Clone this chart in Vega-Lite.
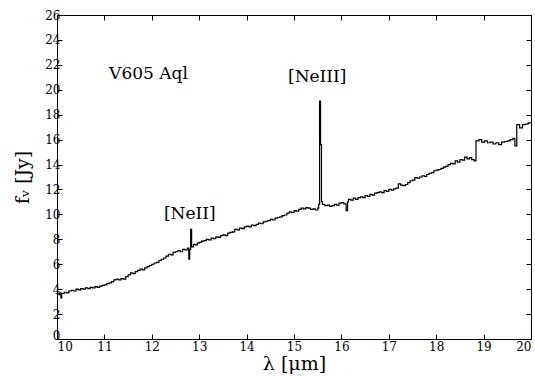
{
  "$schema": "https://vega.github.io/schema/vega-lite/v6.json",
  "width": 474,
  "height": 324,
  "autosize": "none",
  "padding": {"left": 57, "top": 15, "right": 4, "bottom": 38},
  "background": "white",
  "config": {
    "view": {"stroke": "black", "strokeWidth": 1},
    "axis": {"grid": false, "domain": false, "tickColor": "black", "tickSize": -5, "labelFont": "DejaVu Serif", "labelFontSize": 12, "labelColor": "black", "titleFont": "DejaVu Serif", "titleFontWeight": "normal", "titleColor": "black", "titleFontSize": 19}
  },
  "datasets": {
    "spec": [
      {"w": 10.00, "f": 3.55}, {"w": 10.05, "f": 3.7}, {"w": 10.08, "f": 3.3}, {"w": 10.10, "f": 3.65}, {"w": 10.15, "f": 3.75},
      {"w": 10.20, "f": 3.7}, {"w": 10.25, "f": 3.85}, {"w": 10.30, "f": 3.9}, {"w": 10.35, "f": 3.85}, {"w": 10.40, "f": 4.0},
      {"w": 10.45, "f": 3.95}, {"w": 10.50, "f": 4.05}, {"w": 10.55, "f": 4.0}, {"w": 10.60, "f": 4.1}, {"w": 10.65, "f": 4.05},
      {"w": 10.70, "f": 4.15}, {"w": 10.75, "f": 4.1}, {"w": 10.80, "f": 4.2}, {"w": 10.85, "f": 4.15}, {"w": 10.90, "f": 4.25},
      {"w": 10.95, "f": 4.3}, {"w": 11.00, "f": 4.35}, {"w": 11.05, "f": 4.45}, {"w": 11.10, "f": 4.5}, {"w": 11.15, "f": 4.6},
      {"w": 11.20, "f": 4.75}, {"w": 11.25, "f": 4.8}, {"w": 11.30, "f": 4.75}, {"w": 11.35, "f": 4.85}, {"w": 11.40, "f": 4.8},
      {"w": 11.45, "f": 5.0}, {"w": 11.50, "f": 5.15}, {"w": 11.55, "f": 5.3}, {"w": 11.60, "f": 5.25}, {"w": 11.65, "f": 5.4},
      {"w": 11.70, "f": 5.5}, {"w": 11.75, "f": 5.6}, {"w": 11.80, "f": 5.55}, {"w": 11.85, "f": 5.7}, {"w": 11.90, "f": 5.8},
      {"w": 11.95, "f": 5.9}, {"w": 12.00, "f": 6.0}, {"w": 12.05, "f": 6.1}, {"w": 12.10, "f": 6.15}, {"w": 12.15, "f": 6.3},
      {"w": 12.20, "f": 6.4}, {"w": 12.25, "f": 6.5}, {"w": 12.30, "f": 6.65}, {"w": 12.35, "f": 6.8}, {"w": 12.40, "f": 6.75},
      {"w": 12.45, "f": 6.95}, {"w": 12.50, "f": 7.0}, {"w": 12.55, "f": 7.1}, {"w": 12.60, "f": 7.0}, {"w": 12.65, "f": 7.2},
      {"w": 12.70, "f": 7.15}, {"w": 12.75, "f": 7.3}, {"w": 12.78, "f": 6.4}, {"w": 12.80, "f": 7.2}, {"w": 12.82, "f": 8.8},
      {"w": 12.84, "f": 7.4}, {"w": 12.88, "f": 7.6}, {"w": 12.92, "f": 7.55}, {"w": 12.96, "f": 7.7}, {"w": 13.00, "f": 7.75},
      {"w": 13.05, "f": 7.85}, {"w": 13.10, "f": 7.9}, {"w": 13.15, "f": 8.0}, {"w": 13.20, "f": 7.95}, {"w": 13.25, "f": 8.1},
      {"w": 13.30, "f": 8.05}, {"w": 13.35, "f": 8.2}, {"w": 13.40, "f": 8.15}, {"w": 13.45, "f": 8.3}, {"w": 13.50, "f": 8.35},
      {"w": 13.55, "f": 8.3}, {"w": 13.60, "f": 8.5}, {"w": 13.65, "f": 8.55}, {"w": 13.70, "f": 8.6}, {"w": 13.75, "f": 8.8},
      {"w": 13.80, "f": 8.75}, {"w": 13.85, "f": 8.9}, {"w": 13.90, "f": 8.85}, {"w": 13.95, "f": 9.0}, {"w": 14.00, "f": 9.05},
      {"w": 14.05, "f": 9.0}, {"w": 14.10, "f": 9.15}, {"w": 14.15, "f": 9.1}, {"w": 14.20, "f": 9.2}, {"w": 14.25, "f": 9.3},
      {"w": 14.30, "f": 9.25}, {"w": 14.35, "f": 9.4}, {"w": 14.40, "f": 9.45}, {"w": 14.45, "f": 9.5}, {"w": 14.50, "f": 9.6},
      {"w": 14.55, "f": 9.55}, {"w": 14.60, "f": 9.7}, {"w": 14.65, "f": 9.75}, {"w": 14.70, "f": 9.8}, {"w": 14.75, "f": 9.9},
      {"w": 14.80, "f": 9.95}, {"w": 14.85, "f": 10.1}, {"w": 14.90, "f": 10.2}, {"w": 14.95, "f": 10.15}, {"w": 15.00, "f": 10.3},
      {"w": 15.05, "f": 10.25}, {"w": 15.10, "f": 10.4}, {"w": 15.15, "f": 10.5}, {"w": 15.20, "f": 10.45}, {"w": 15.25, "f": 10.55},
      {"w": 15.30, "f": 10.5}, {"w": 15.35, "f": 10.4}, {"w": 15.40, "f": 10.45}, {"w": 15.45, "f": 10.35}, {"w": 15.50, "f": 10.5},
      {"w": 15.52, "f": 10.8}, {"w": 15.54, "f": 19.1}, {"w": 15.56, "f": 15.6}, {"w": 15.58, "f": 11.0}, {"w": 15.60, "f": 10.8},
      {"w": 15.65, "f": 10.7}, {"w": 15.70, "f": 10.75}, {"w": 15.75, "f": 10.65}, {"w": 15.80, "f": 10.7}, {"w": 15.85, "f": 10.8},
      {"w": 15.90, "f": 10.75}, {"w": 15.95, "f": 10.9}, {"w": 16.00, "f": 10.95}, {"w": 16.05, "f": 10.85}, {"w": 16.10, "f": 10.3},
      {"w": 16.13, "f": 11.0}, {"w": 16.15, "f": 11.2}, {"w": 16.20, "f": 11.15}, {"w": 16.25, "f": 11.3}, {"w": 16.30, "f": 11.2},
      {"w": 16.35, "f": 11.35}, {"w": 16.40, "f": 11.4}, {"w": 16.45, "f": 11.35}, {"w": 16.50, "f": 11.5}, {"w": 16.55, "f": 11.45},
      {"w": 16.60, "f": 11.6}, {"w": 16.65, "f": 11.55}, {"w": 16.70, "f": 11.7}, {"w": 16.75, "f": 11.75}, {"w": 16.80, "f": 11.8},
      {"w": 16.85, "f": 11.75}, {"w": 16.90, "f": 11.9}, {"w": 16.95, "f": 11.85}, {"w": 17.00, "f": 12.0}, {"w": 17.05, "f": 11.95},
      {"w": 17.10, "f": 12.05}, {"w": 17.15, "f": 12.1}, {"w": 17.20, "f": 12.45}, {"w": 17.25, "f": 12.35}, {"w": 17.30, "f": 12.3},
      {"w": 17.35, "f": 12.4}, {"w": 17.40, "f": 12.55}, {"w": 17.45, "f": 12.7}, {"w": 17.50, "f": 12.75}, {"w": 17.55, "f": 12.95},
      {"w": 17.60, "f": 12.9}, {"w": 17.65, "f": 13.0}, {"w": 17.70, "f": 13.1}, {"w": 17.75, "f": 13.05}, {"w": 17.80, "f": 13.2},
      {"w": 17.85, "f": 13.3}, {"w": 17.90, "f": 13.35}, {"w": 17.95, "f": 13.5}, {"w": 18.00, "f": 13.55}, {"w": 18.05, "f": 13.6},
      {"w": 18.10, "f": 13.7}, {"w": 18.15, "f": 13.8}, {"w": 18.20, "f": 13.85}, {"w": 18.25, "f": 14.0}, {"w": 18.30, "f": 14.1},
      {"w": 18.35, "f": 14.05}, {"w": 18.40, "f": 14.3}, {"w": 18.45, "f": 14.2}, {"w": 18.50, "f": 14.4}, {"w": 18.55, "f": 14.35},
      {"w": 18.60, "f": 14.6}, {"w": 18.65, "f": 14.45}, {"w": 18.70, "f": 14.55}, {"w": 18.75, "f": 14.4}, {"w": 18.80, "f": 14.3},
      {"w": 18.84, "f": 15.9}, {"w": 18.90, "f": 16.0}, {"w": 18.96, "f": 15.8}, {"w": 19.02, "f": 15.9}, {"w": 19.08, "f": 15.75},
      {"w": 19.14, "f": 15.8}, {"w": 19.20, "f": 15.65}, {"w": 19.26, "f": 15.75}, {"w": 19.32, "f": 15.6}, {"w": 19.38, "f": 15.8},
      {"w": 19.44, "f": 15.85}, {"w": 19.50, "f": 15.9}, {"w": 19.56, "f": 16.0}, {"w": 19.62, "f": 16.1}, {"w": 19.66, "f": 15.5},
      {"w": 19.70, "f": 17.2}, {"w": 19.76, "f": 16.95}, {"w": 19.82, "f": 17.2}, {"w": 19.88, "f": 17.25}, {"w": 19.94, "f": 17.35},
      {"w": 20.00, "f": 17.4}
    ],
    "notes": [
      {"w": 11.93, "f": 21.3, "label": "V605 Aql"},
      {"w": 15.49, "f": 21.0, "label": "[NeIII]"},
      {"w": 12.8, "f": 10.0, "label": "[NeII]"}
    ]
  },
  "layer": [
    {
      "data": {"name": "spec"},
      "mark": {"type": "line", "interpolate": "step-after", "color": "black", "strokeWidth": 1.2, "clip": true},
      "encoding": {
        "x": {"field": "w", "type": "quantitative", "scale": {"domain": [10, 20], "nice": false},
              "axis": {"orient": "bottom", "values": [10, 11, 12, 13, 14, 15, 16, 17, 18, 19, 20], "title": "λ [μm]", "labelPadding": 7, "titlePadding": 2}},
        "y": {"field": "f", "type": "quantitative", "scale": {"domain": [0, 26], "nice": false, "zero": false},
              "axis": {"orient": "left", "values": [0, 2, 4, 6, 8, 10, 12, 14, 16, 18, 20, 22, 24, 26], "title": "fᵥ [Jy]",
                       "labelPadding": 2, "titlePadding": 12,
                       "labelBaseline": {"condition": {"test": "datum.value == 0", "value": "alphabetic"}, "value": "middle"}}}
      }
    },
    {
      "data": {"name": "notes"},
      "mark": {"type": "text", "font": "DejaVu Serif", "fontSize": 17, "color": "black", "baseline": "middle", "align": "center"},
      "encoding": {
        "x": {"field": "w", "type": "quantitative",
              "axis": {"orient": "top", "values": [10, 11, 12, 13, 14, 15, 16, 17, 18, 19, 20], "labels": false, "title": null}},
        "y": {"field": "f", "type": "quantitative",
              "axis": {"orient": "right", "values": [0, 2, 4, 6, 8, 10, 12, 14, 16, 18, 20, 22, 24, 26], "labels": false, "title": null}},
        "text": {"field": "label"}
      }
    }
  ]
}
